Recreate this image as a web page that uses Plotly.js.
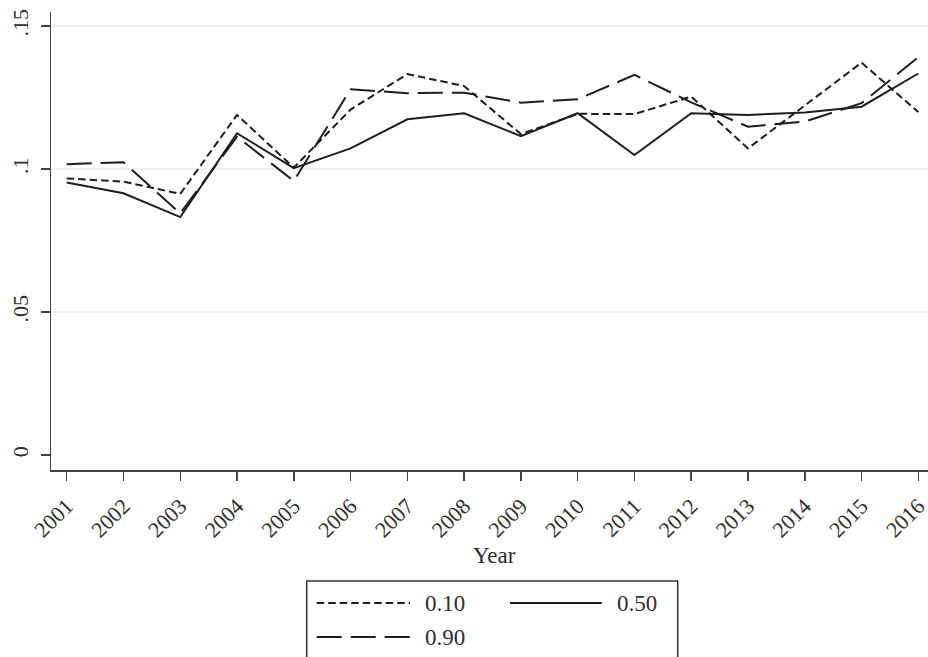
<!DOCTYPE html>
<html>
<head>
<meta charset="utf-8">
<script src="https://cdn.plot.ly/plotly-3.0.1.min.js"></script>
<style>
  html, body { margin: 0; padding: 0; background: #fff; overflow: hidden; }
  #chart { width: 928px; height: 657px; }
</style>
</head>
<body>
<div id="chart"></div>
<script>
// Estimated coefficients by quantile, 2001-2016
const years = [2001, 2002, 2003, 2004, 2005, 2006, 2007, 2008,
               2009, 2010, 2011, 2012, 2013, 2014, 2015, 2016];
const q10 = [0.0967, 0.0956, 0.0913, 0.1189, 0.1005, 0.1208, 0.1332, 0.1290,
             0.1122, 0.1193, 0.1192, 0.1253, 0.1072, 0.1222, 0.1372, 0.1199];
const q50 = [0.0953, 0.0915, 0.0832, 0.1125, 0.1003, 0.1072, 0.1174, 0.1195,
             0.1115, 0.1195, 0.1049, 0.1195, 0.1189, 0.1198, 0.1218, 0.1334];
const q90 = [0.1017, 0.1024, 0.0845, 0.1113, 0.0958, 0.1279, 0.1265, 0.1267,
             0.1232, 0.1244, 0.1329, 0.1233, 0.1148, 0.1166, 0.1230, 0.1391];
const yTickVals = [0, 0.05, 0.1, 0.15];
const yTickText = ["0", ".05", ".1", ".15"];
const gridVals = [0.05, 0.1, 0.15];
const seriesNames = ["0.10", "0.50", "0.90"];

const FONT = "'Liberation Serif', 'DejaVu Serif', serif";
const INK = "#1e1e1e";
const TEXT = "#2e2e2e";
const DASH_SHORT = "7.5px,4px";
const DASH_LONG = "25px,9px";

// plot area geometry in pixels (used to place the legend box in paper units)
const L = 51, T = 12, W = 877, H = 458;
const px = v => (v - L) / W;
const py = v => (T + H - v) / H;

const lineTrace = (y, name, dash) => ({
  x: years, y: y, name: name, type: "scatter", mode: "lines",
  line: { color: INK, width: 2, dash: dash },
  showlegend: false, hoverinfo: "x+y+name"
});

const data = [
  lineTrace(q10, seriesNames[0], DASH_SHORT),
  lineTrace(q50, seriesNames[1], "solid"),
  lineTrace(q90, seriesNames[2], DASH_LONG)
];

const shapes = gridVals.map(v => ({
  type: "line", xref: "paper", yref: "y", x0: 0, x1: 1, y0: v, y1: v,
  line: { color: "#ececec", width: 1.5 }, layer: "below"
}));

// legend box and samples
shapes.push({
  type: "rect", xref: "paper", yref: "paper",
  x0: px(306.7), x1: px(677.7), y0: py(581), y1: py(700),
  line: { color: "#333", width: 1.5 }, fillcolor: "rgba(0,0,0,0)"
});
const sample = (x0, x1, y, dash) => ({
  type: "line", xref: "paper", yref: "paper",
  x0: px(x0), x1: px(x1), y0: py(y), y1: py(y),
  line: { color: INK, width: 2, dash: dash }
});
shapes.push(sample(316.7, 410, 603, DASH_SHORT));
shapes.push(sample(510, 601.7, 603, "solid"));
shapes.push(sample(316.7, 410, 637, DASH_LONG));

const legendText = (x, y, t) => ({
  xref: "paper", yref: "paper", x: px(x), y: py(y), text: t,
  showarrow: false, xanchor: "left", yanchor: "middle",
  font: { family: FONT, size: 23, color: TEXT }
});

const annotations = [
  legendText(423, 603, seriesNames[0]),
  legendText(614.5, 603, seriesNames[1]),
  legendText(423, 637, seriesNames[2]),
  {
    xref: "paper", yref: "paper", x: px(494.5), y: py(555), text: "Year",
    showarrow: false, xanchor: "center", yanchor: "middle",
    font: { family: FONT, size: 23, color: TEXT }
  }
];

const layout = {
  width: 928, height: 657,
  margin: { l: L, r: 928 - L - W, t: T, b: 657 - T - H, pad: 0 },
  paper_bgcolor: "#fff", plot_bgcolor: "#fff",
  font: { family: FONT, size: 22, color: TEXT },
  showlegend: false,
  xaxis: {
    range: [2001 - 15.7 / 56.77, 2016 + 9.7 / 56.77],
    tickvals: years, ticktext: years.map(String),
    tickangle: -45, ticks: "outside", ticklen: 9, tickwidth: 1.5, tickcolor: "#444",
    showline: true, linecolor: "#444", linewidth: 1.5,
    showgrid: false, zeroline: false, fixedrange: true,
    ticklabeloverflow: "allow", ticklabelstandoff: 4,
    tickfont: { family: FONT, size: 22, color: TEXT }
  },
  yaxis: {
    range: [-0.00524, 0.1549],
    tickvals: yTickVals, ticktext: yTickText,
    tickangle: -90, ticks: "outside", ticklen: 9, tickwidth: 1.5, tickcolor: "#444",
    showline: true, linecolor: "#444", linewidth: 1.5,
    showgrid: false, zeroline: false, fixedrange: true,
    ticklabelstandoff: 4, ticklabeloverflow: "allow",
    tickfont: { family: FONT, size: 22, color: TEXT }
  },
  shapes: shapes,
  annotations: annotations
};

Plotly.newPlot("chart", data, layout, { displayModeBar: false, staticPlot: true });
</script>
</body>
</html>
